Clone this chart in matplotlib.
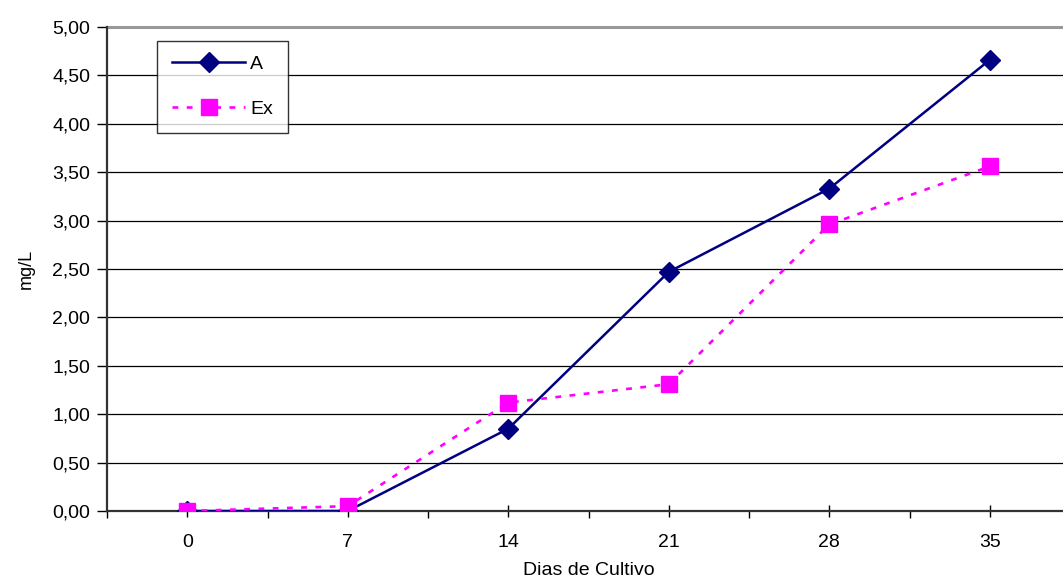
import numpy as np
import matplotlib.pyplot as plt
from matplotlib.ticker import FixedLocator, FuncFormatter

plt.rcParams['font.family'] = ['Liberation Sans', 'DejaVu Sans']

dias = ['0', '7', '14', '21', '28', '35']
serie_a = [0.00, 0.00, 0.85, 2.47, 3.33, 4.66]
serie_ex = [0.00, 0.05, 1.12, 1.31, 2.96, 3.56]

W, H = 1063, 583
fig = plt.figure(figsize=(W / 100, H / 100), dpi=100)
# plot area in pixels: left 107, top 27, bottom 511, 160.5 px per category
left, top, bottom = 107, 27, 511
width = 160.5 * len(dias)
ax = fig.add_axes([left / W, 1 - bottom / H, width / W, (bottom - top) / H])

x = np.arange(len(dias))
ax.plot(x, serie_a, color='#000080', lw=1.8, marker='D', ms=10.5,
        mfc='#000080', mec='#000080', label='A', zorder=3)
ax.plot(x, serie_ex, color='#ff00ff', lw=1.9, ls=(0, (2.2, 3.2)), marker='s',
        ms=11.5, mfc='#ff00ff', mec='#ff00ff', label='Ex', zorder=4)

ax.set_xlim(-0.5, len(dias) - 0.5)
ax.set_ylim(0, 5)
ax.set_yticks(np.arange(0, 5.01, 0.5))
ax.yaxis.set_major_formatter(FuncFormatter(lambda v, p: f'{v:.2f}'.replace('.', ',')))
ax.grid(axis='y', color='black', lw=0.9)
ax.set_axisbelow(True)

# ticks between categories, short crossing ticks at category centres
ax.xaxis.set_major_locator(FixedLocator(x - 0.5))
ax.xaxis.set_minor_locator(FixedLocator(x))
ax.xaxis.set_major_formatter(FuncFormatter(lambda v, p: ''))
ax.xaxis.set_minor_formatter(FuncFormatter(lambda v, p: dias[int(round(v))] if 0 <= round(v) < len(dias) else ''))
ax.tick_params(axis='x', which='major', direction='out', length=5, width=1, color='black')
ax.tick_params(axis='x', which='minor', direction='inout', length=9, width=1,
               color='black', labelsize=14, pad=12)
ax.tick_params(axis='y', direction='out', length=7, width=1, labelsize=14, pad=5)

for side in ['top', 'right']:
    ax.spines[side].set_visible(False)
ax.spines['left'].set_linewidth(1.6)
ax.spines['bottom'].set_linewidth(1.6)
ax.spines['left'].set_color('#333333')
ax.spines['bottom'].set_color('#333333')
ax.axhline(5, color='#999999', lw=2.2, zorder=1, clip_on=False)

ax.set_ylabel('mg/L', fontsize=13)
ax.yaxis.set_label_coords(-(left - 35) / width, 0.5)
ax.set_xlabel('Dias de Cultivo', fontsize=14)
ax.xaxis.set_label_coords((589 - left) / width, -(562 - bottom) / (bottom - top))

leg = ax.legend(loc='upper left', bbox_to_anchor=(157 / W, 1 - 41 / H),
                bbox_transform=fig.transFigure, fontsize=14, frameon=True,
                fancybox=False, shadow=False, handlelength=3.8,
                handletextpad=0.25, labelspacing=1.4, borderpad=0.75,
                borderaxespad=0)
leg.get_frame().set_edgecolor('black')
leg.get_frame().set_linewidth(1.0)

fig.savefig('out.png', dpi=100)
